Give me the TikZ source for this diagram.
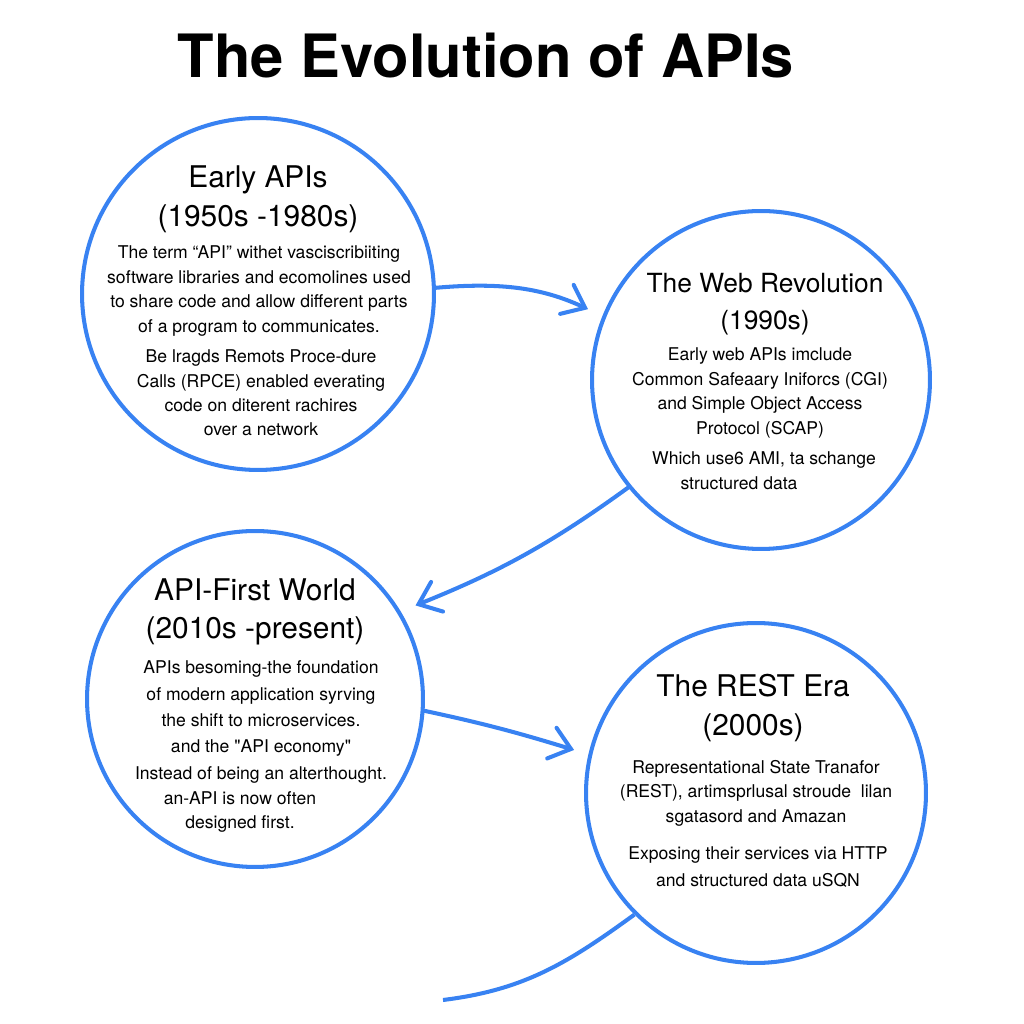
\documentclass[tikz,border=0pt]{standalone}
\usepackage{fontspec}
\setmainfont{TeX Gyre Heros}
\usetikzlibrary{arrows.meta}
\definecolor{apiblue}{HTML}{3882F2}
\tikzset{
  era/.style={circle, draw=apiblue, line width=2.3pt, inner sep=0pt},
  erahead/.style={align=center, font=\fontsize{17}{22}\selectfont},
  erabody/.style={align=center, font=\fontsize{10}{13.9}\selectfont},
  flow/.style={draw=apiblue, line width=2.3pt, line cap=round,
    -{Straight Barb[length=4mm,width=6.4mm,line cap=round]}},
  trail/.style={draw=apiblue, line width=2.3pt},
}
\begin{document}
\begin{tikzpicture}[x=0.02cm,y=0.02cm]
\useasboundingbox (0,0) rectangle (1024,1024);
\node[font=\fontsize{34}{40}\selectfont\bfseries] (title) at (486,968) {The Evolution of APIs};
% the four eras
\node[era, minimum size=7.04cm] (early) at (258,730) {};
\node[era, minimum size=6.76cm] (web) at (761,644) {};
\node[era, minimum size=6.72cm] (first) at (255,325) {};
\node[era, minimum size=6.8cm] (rest) at (756,231) {};
% early apis
\node[erahead] (earlyhead) at (258,825) {Early APIs\\(1950s -1980s)};
\node[erabody] (earlyterm) at (259,733) {The term “API” withet vasciscribiiting\\
  software libraries and ecomolines used\\
  to share code and allow different parts\\
  of a program to communicates.};
\node[erabody] (earlyrpc) at (261,631) {Be lragds Remots Proce-dure\\
  Calls (RPCE) enabled everating\\
  code on diterent rachires\\
  over a network};
% web revolution
\node[erahead, font=\fontsize{15}{21}\selectfont] (webhead) at (765,720) {The Web Revolution\\(1990s)};
\node[erabody] (webcgi) at (760,631) {Early web APIs imclude\\
  Common Safeaary Iniforcs (CGI)\\
  and Simple Object Access\\
  Protocol (SCAP)};
\node[erabody] (webxml) at (764,564) {Which use6 AMI, ta schange};
\node[erabody] (webdata) at (739,541) {structured data};
% api-first world
\node[erahead] (firsthead) at (255,412) {API-First World\\(2010s -present)};
\node[erabody, font=\fontsize{10}{15}\selectfont] (firstbase) at (261,302) {APIs besoming-the foundation\\
  of modern application syrving\\
  the shift to microservices.\\
  and the \textquotedbl API economy\textquotedbl\\
  Instead of being an alterthought.};
\node[erabody] (firstdesign) at (240,212) {an-API is now often\\designed first.};
% rest era
\node[erahead] (resthead) at (753,316) {The REST Era\\(2000s)};
\node[erabody] (restname) at (756,231) {Representational State Tranafor\\
  (REST), artimsprlusal stroude\ \ lilan\\
  sgatasord and Amazan};
\node[erabody, font=\fontsize{10}{15}\selectfont] (resthttp) at (758,157) {Exposing their services via HTTP\\
  and structured data uSQN};
% connectors
\coordinate (tail) at (443,24);
\draw[flow, shorten >=0.32cm] (early.2) to[out=5, in=155] (web.158);
\draw[flow, shorten >=0.32cm] (web.219) to[out=216, in=22] (first.31);
\draw[flow, shorten >=0.3cm] (first.-4) to[out=-12, in=163] (rest.167);
\draw[trail] (rest.225) to[out=216, in=7] (tail);
\end{tikzpicture}
\end{document}
